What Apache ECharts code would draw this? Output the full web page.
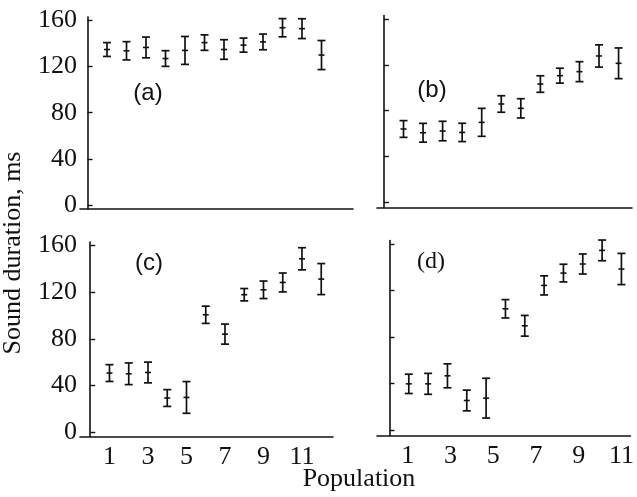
<!DOCTYPE html>
<html>
<head>
<meta charset="utf-8">
<script src="https://cdn.jsdelivr.net/npm/echarts@6/dist/echarts.min.js"></script>
<style>
  html, body { margin: 0; padding: 0; background: #fff; }
  #chart { width: 637px; height: 497px; }
</style>
</head>
<body>
<div id="chart"></div>
<script>
// Populations 1..12 in every panel
const populations = [1, 2, 3, 4, 5, 6, 7, 8, 9, 10, 11, 12];

// Mean sound duration (ms) and half-length of the error bar, per panel
const meanA = [134.8, 133.7, 136.6, 127, 134, 140.8, 134.8, 138.6, 141.4, 153.7, 152.9, 130];
const errA  = [6, 7.9, 9, 6.8, 12.1, 6.7, 8.5, 6.1, 6.8, 7.9, 8.6, 12.6];

const meanB = [64, 60.7, 62.2, 61, 69.8, 85.8, 82, 103.2, 110.5, 114, 127.7, 121.3];
const errB  = [7.3, 8.2, 8.5, 8, 12.2, 7.2, 8.4, 7.2, 6.5, 8.7, 9.7, 13.4];

const meanC = [50.6, 50, 51.1, 29.2, 29.7, 100.6, 84, 117.8, 122, 128.3, 148.6, 131.2];
const errC  = [7.2, 9.3, 8.9, 7.2, 13.6, 7.4, 8.6, 5.3, 7.5, 8.1, 9.5, 13.3];

const meanD = [39.8, 39.8, 46.7, 25.5, 27.5, 104.3, 89.7, 124.4, 135, 142.8, 154.5, 138.5];
const errD  = [8.3, 9, 10.3, 8.9, 17.1, 7.9, 8.9, 8.2, 7.6, 8.6, 8.9, 13.4];

// Tick labels
const yTicks = [0, 40, 80, 120, 160];
const xTicks = [1, 3, 5, 7, 9, 11];

const INK = '#111';
const SERIF = '"Liberation Serif", "DejaVu Serif", serif';

function toRows(means, errs) {
    return populations.map((p, i) => [p, means[i], errs[i]]);
}

function renderErrorBar(params, api) {
    const x = api.value(0), m = api.value(1), e = api.value(2);
    const top = api.coord([x, m + e]);
    const bot = api.coord([x, m - e]);
    const mid = api.coord([x, m]);
    const cap = 4, dot = 3;
    const style = { stroke: INK, lineWidth: 1.7 };
    return {
        type: 'group',
        children: [
            { type: 'line', shape: { x1: top[0], y1: top[1], x2: bot[0], y2: bot[1] }, style },
            { type: 'line', shape: { x1: top[0] - cap, y1: top[1], x2: top[0] + cap, y2: top[1] }, style },
            { type: 'line', shape: { x1: bot[0] - cap, y1: bot[1], x2: bot[0] + cap, y2: bot[1] }, style },
            { type: 'line', shape: { x1: mid[0] - dot, y1: mid[1], x2: mid[0] + dot, y2: mid[1] }, style: { stroke: INK, lineWidth: 1.6 } },
        ],
    };
}

function yAxisFor(gridIndex, min, max, showLabels) {
    return {
        type: 'value', gridIndex, min, max, position: 'left',
        axisLine: { show: true, lineStyle: { color: INK, width: 1.6 } },
        axisTick: { show: true, inside: true, length: 5, customValues: yTicks, lineStyle: { color: INK, width: 1.4 } },
        axisLabel: {
            show: showLabels, customValues: yTicks, margin: 3,
            color: INK, fontFamily: SERIF, fontSize: 26,
        },
        splitLine: { show: false },
    };
}

function xAxisFor(gridIndex, min, max, showLabels, showLine) {
    return {
        type: 'value', gridIndex, min, max, position: 'bottom',
        show: showLine !== false,
        axisLine: { show: true, onZero: false, lineStyle: { color: INK, width: 1.6 } },
        axisTick: { show: false },
        axisLabel: {
            show: showLabels, customValues: xTicks, margin: 8,
            color: INK, fontFamily: SERIF, fontSize: 26,
        },
        splitLine: { show: false },
    };
}

const chart = echarts.init(document.getElementById('chart'), null, { renderer: 'canvas' });

chart.setOption({
    backgroundColor: '#fff',
    animation: false,
    grid: [
        { left: 80, top: 17, width: 273, height: 192 },
        { left: 377, top: 15.5, width: 255, height: 192 },
        { left: 80, top: 242, width: 253, height: 194.5 },
        { left: 377, top: 240.5, width: 255, height: 195 },
    ],
    xAxis: [
        xAxisFor(0, -0.385, 13.615, false),
        xAxisFor(1, -0.356, 12.687, false),
        xAxisFor(2, -0.532, 12.611, true),
        xAxisFor(3, -0.645, 12.466, false, false),
        // label axis of panel (d): the printed numbers are spaced wider than the points
        xAxisFor(3, -0.442, 11.419, true),
    ],
    yAxis: [
        yAxisFor(0, -3.5, 163, true),
        yAxisFor(1, -4.5, 163, false),
        yAxisFor(2, -3.8, 163, true),
        yAxisFor(3, -4.6, 163, false),
    ],
    series: [
        { type: 'custom', xAxisIndex: 0, yAxisIndex: 0, renderItem: renderErrorBar, data: toRows(meanA, errA), encode: { x: 0, y: 1 } },
        { type: 'custom', xAxisIndex: 1, yAxisIndex: 1, renderItem: renderErrorBar, data: toRows(meanB, errB), encode: { x: 0, y: 1 } },
        { type: 'custom', xAxisIndex: 2, yAxisIndex: 2, renderItem: renderErrorBar, data: toRows(meanC, errC), encode: { x: 0, y: 1 } },
        { type: 'custom', xAxisIndex: 3, yAxisIndex: 3, renderItem: renderErrorBar, data: toRows(meanD, errD), encode: { x: 0, y: 1 } },
    ],
    graphic: [
        { type: 'text', x: 148, y: 93, style: { text: '(a)', font: '24px "Liberation Sans", sans-serif', fill: INK, align: 'center', verticalAlign: 'middle' } },
        { type: 'text', x: 432, y: 90, style: { text: '(b)', font: '24px "Liberation Sans", sans-serif', fill: INK, align: 'center', verticalAlign: 'middle' } },
        { type: 'text', x: 149, y: 263, style: { text: '(c)', font: '24px "Liberation Sans", sans-serif', fill: INK, align: 'center', verticalAlign: 'middle' } },
        { type: 'text', x: 431, y: 262, style: { text: '(d)', font: '24px ' + SERIF, fill: INK, align: 'center', verticalAlign: 'middle' } },
        { type: 'text', x: 13, y: 253, rotation: Math.PI / 2, style: { text: 'Sound duration, ms', font: '26px ' + SERIF, fill: INK, align: 'center', verticalAlign: 'middle' } },
        { type: 'text', x: 359, y: 479, style: { text: 'Population', font: '26px ' + SERIF, fill: INK, align: 'center', verticalAlign: 'middle' } },
    ],
});
</script>
</body>
</html>
